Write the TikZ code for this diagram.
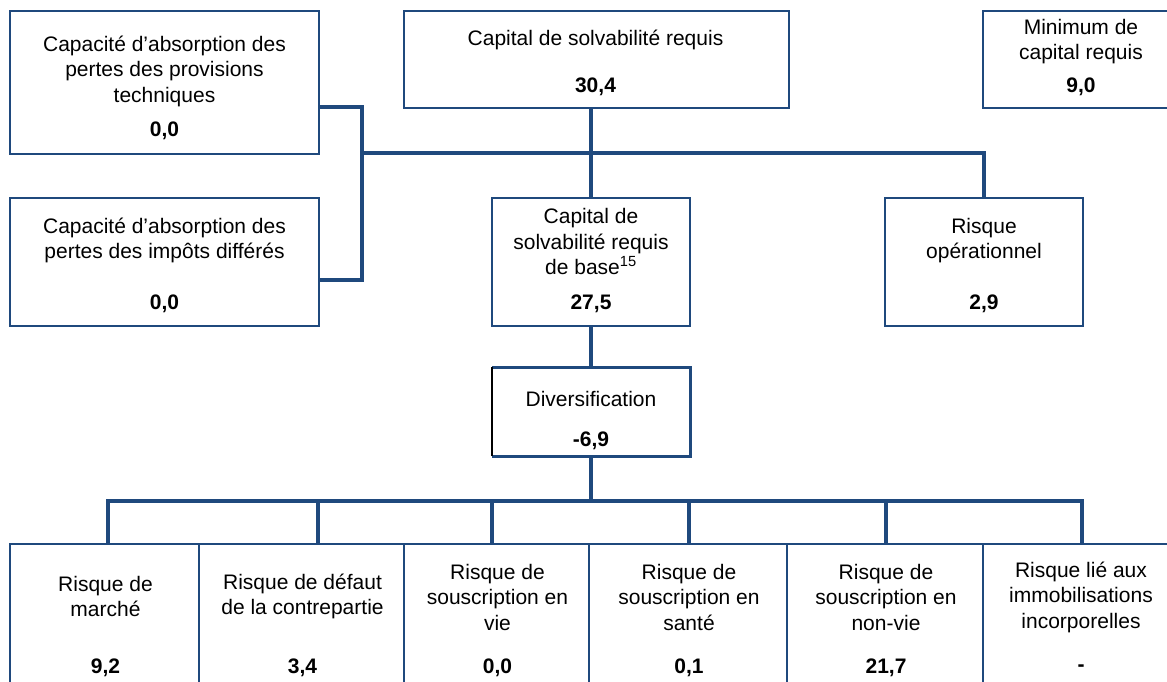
\documentclass[tikz,border=0pt]{standalone}
\usepackage{fontspec}
\setmainfont{Liberation Sans}
\usetikzlibrary{calc}
\definecolor{dblue}{RGB}{31,73,125}
\begin{document}
\begin{tikzpicture}[x=1pt,y=-1pt,
  box/.style={draw=dblue,line width=2pt,fill=white,inner sep=0pt},
  conn/.style={draw=dblue,line width=4pt},
  txt/.style={font=\fontsize{21}{25.5}\selectfont,align=center,inner sep=0pt,text=black},
  num/.style={font=\fontsize{21}{25.5}\selectfont\bfseries,inner sep=0pt,text=black}]
\useasboundingbox (0,0) rectangle (1167,681);
\clip (0,0) rectangle (1167,681);

% boxes (geometry only, drawn later on top of connectors)
\path
  node[box,draw=none,fill=none,minimum width=307pt,minimum height=141pt] (b1) at (164.5,82.5) {}
  node[box,draw=none,fill=none,minimum width=307pt,minimum height=126pt] (b2) at (164.5,262) {}
  node[box,draw=none,fill=none,minimum width=383pt,minimum height=95pt] (csr) at (596.5,59.5) {}
  node[box,draw=none,fill=none,minimum width=194pt,minimum height=95pt] (mcr) at (1081,59.5) {}
  node[box,draw=none,fill=none,minimum width=196pt,minimum height=126pt] (bscr) at (591,262) {}
  node[box,draw=none,fill=none,minimum width=196pt,minimum height=126pt] (ro) at (984,262) {}
  node[box,draw=none,fill=none,minimum width=196pt,minimum height=87pt] (div) at (591,411.5) {}
  node[box,draw=none,fill=none,minimum width=189pt,minimum height=160pt] (r1) at (105.5,625) {}
  node[box,draw=none,fill=none,minimum width=205pt,minimum height=160pt] (r2) at (302.5,625) {}
  node[box,draw=none,fill=none,minimum width=185pt,minimum height=160pt] (r3) at (497.5,625) {}
  node[box,draw=none,fill=none,minimum width=198pt,minimum height=160pt] (r4) at (689,625) {}
  node[box,draw=none,fill=none,minimum width=196pt,minimum height=160pt] (r5) at (886,625) {}
  node[box,draw=none,fill=none,minimum width=194pt,minimum height=160pt] (r6) at (1081,625) {};

% connectors
\draw[conn] ([yshift=-24.5pt]b1.east) -- ++(43,0) -- ++(0,173) -- ([yshift=-18pt]b2.east);
\draw[conn] ($(b1.east)+(43,70.5)$) -| (ro.north);
\draw[conn] (bscr.north |- csr.south) -- (bscr.north);
\draw[conn] (bscr.south) -- (div.north);
\draw[conn] (div.south) -- ($(div.south)+(0,47)$);
\draw[conn] ($(r1.north)+(2.5,0)$) -- ($(r1.north)+(2.5,-43)$) -- ($(r6.north)+(1,-43)$) -- ($(r6.north)+(1,0)$);
\draw[conn] ($(r2.north)+(15.5,0)$) -- ($(r2.north)+(15.5,-43)$);
\draw[conn] ($(r3.north)+(-5.5,0)$) -- ($(r3.north)+(-5.5,-43)$);
\draw[conn] (r4.north) -- ($(r4.north)+(0,-43)$);
\draw[conn] (r5.north) -- ($(r5.north)+(0,-43)$);

% visible box outlines
\foreach \n in {b1,b2,csr,mcr,bscr,ro,r1,r2,r3,r4,r5,r6}{
  \draw[dblue,line width=2pt,fill=white] (\n.north west) rectangle (\n.south east);
}
\fill[white] (div.north west) rectangle (div.south east);
\draw[dblue,line width=3pt] (div.north west) -- (div.north east) -- (div.south east) -- (div.south west);
\draw[black,line width=1.5pt] (div.south west) -- (div.north west);

% texts
\node[txt] (b1t) at (164.5,71) {Capacité d’absorption des\\pertes des provisions\\techniques};
\node[num] (b1n) at (164.5,131) {0,0};
\node[txt] (b2t) at (164.5,240.5) {Capacité d’absorption des\\pertes des impôts différés};
\node[num] (b2n) at (164.5,304) {0,0};
\node[txt] (csrt) at (595.5,40) {Capital de solvabilité requis};
\node[num] (csrn) at (595.5,87) {30,4};
\node[txt] (mcrt) at (1081,41.5) {Minimum de\\capital requis};
\node[num] (mcrn) at (1081,87) {9,0};
\node[txt] (bscrt) at (591,241.5) {Capital de\\solvabilité requis\\de base\textsuperscript{15}};
\node[num] (bscrn) at (591,304) {27,5};
\node[txt] (rot) at (984,240.5) {Risque\\opérationnel};
\node[num] (ron) at (984,304) {2,9};
\node[txt] (divt) at (591,399) {Diversification};
\node[num] (divn) at (591,441) {-6,9};

\node[txt] (r1t) at (105.5,596.5) {Risque de\\marché};
\node[num] (r1n) at (105.5,668) {9,2};
\node[txt] (r2t) at (302.5,596.5) {Risque de défaut\\de la contrepartie};
\node[num] (r2n) at (302.5,668) {3,4};
\node[txt] (r3t) at (497.5,597) {Risque de\\souscription en\\vie};
\node[num] (r3n) at (497.5,668) {0,0};
\node[txt] (r4t) at (689,597) {Risque de\\souscription en\\santé};
\node[num] (r4n) at (689,668) {0,1};
\node[txt] (r5t) at (886,597) {Risque de\\souscription en\\non-vie};
\node[num] (r5n) at (886,668) {21,7};
\node[txt] (r6t) at (1081,597) {Risque lié aux\\immobilisations\\incorporelles};
\node[num] (r6n) at (1081,668) {-};
\end{tikzpicture}
\end{document}
